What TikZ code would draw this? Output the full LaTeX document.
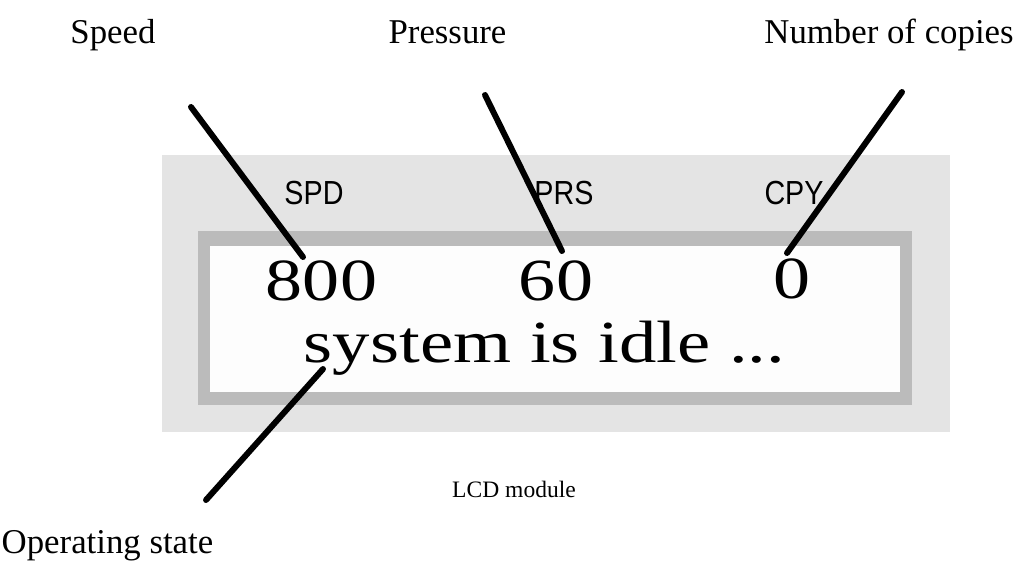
\documentclass[tikz,border=0pt]{standalone}
\usepackage{fontspec}
\setmainfont{Liberation Serif}
\newfontfamily\lcdsans{Liberation Sans}
\definecolor{lcdcase}{HTML}{E4E4E4}
\definecolor{lcdframe}{HTML}{BBBBBB}
\definecolor{lcdglass}{HTML}{FDFDFD}
\tikzset{
  calloutlabel/.style={anchor=base,inner sep=0pt,font=\fontsize{19.8}{24}\selectfont},
  modcaption/.style={anchor=base,inner sep=0pt,font=\fontsize{13.4}{16}\selectfont},
  lcdtag/.style={anchor=base,inner sep=0pt,font=\lcdsans\fontsize{19}{22}\selectfont},
  lcdvalue/.style={anchor=base,inner sep=0pt,font=\fontsize{34}{40}\selectfont},
  calloutline/.style={draw=black,line width=3.4pt,line cap=round},
}

\begin{document}
\begin{tikzpicture}[x=0.02cm,y=-0.02cm]
  \useasboundingbox (0,0) rectangle (1026,562);
  % module body
  \fill[lcdcase] (162,155) rectangle (950,432);
  \fill[lcdframe] (198,231) rectangle (912,405);
  \fill[lcdglass] (210,246) rectangle (900,392);
  % tags and readings
  \foreach \n/\t/\x in {spd/SPD/314,prs/PRS/564,cpy/CPY/794}
    {\node[lcdtag] (tag\n) at (\x,204) {\scalebox{0.86}[1]{\t}};}
  \foreach \n/\v/\x/\y in {spd/800/321.5/300,prs/60/556/300,cpy/0/792/298}
    {\node[lcdvalue] (val\n) at (\x,\y) {\scalebox{1.24}[1]{\v}};}
  \node[lcdvalue] (status) at (544.5,362) {\scalebox{1.25}[1]{system is idle ...}};
  % labels
  \node[calloutlabel] (speed) at (113,43) {Speed};
  \node[calloutlabel] (pressure) at (447.5,43) {Pressure};
  \node[calloutlabel] (copies) at (889,43) {Number of copies};
  \node[calloutlabel] (opstate) at (107.5,553) {Operating state};
  \node[modcaption] (caption) at (514,497) {LCD module};
  % callout lines
  \coordinate (spdtop) at (191,107);
  \coordinate (spdfoot) at (303,257);
  \coordinate (prstop) at (485,95);
  \coordinate (prsfoot) at (562,251);
  \coordinate (cpytop) at (902,92);
  \coordinate (cpyfoot) at (787,253);
  \coordinate (statustop) at (323,369);
  \coordinate (statusfoot) at (206,500);
  \foreach \a/\b in {spdtop/spdfoot,prstop/prsfoot,cpytop/cpyfoot,statustop/statusfoot}
    {\draw[calloutline] (\a) -- (\b);}
\end{tikzpicture}
\end{document}
